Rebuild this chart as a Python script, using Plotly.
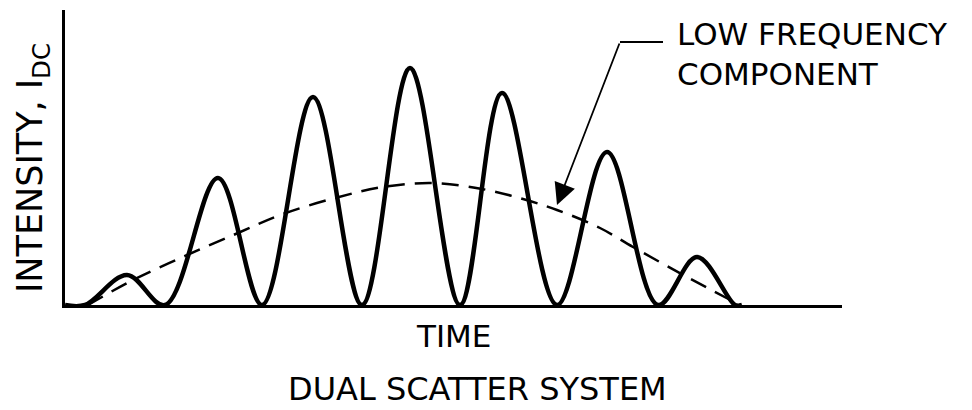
import plotly.graph_objects as go

# Measured DC intensity signal of a dual scatter system (arbitrary units)
time_pts = [0, 20, 62, 100, 153, 197, 248, 297, 345, 395, 437, 492, 542, 593, 632, 670, 677]
intensity = [0, 0, 30, 0, 127, 0, 208, 0, 237, 0, 212, 0, 153, 0, 48, 0, 0]

# Low frequency (pedestal) component of the same signal
env_time = [23, 68, 120, 173, 218, 270, 318, 368, 417, 458, 492, 535, 568, 622, 675]
env_level = [0, 25, 49, 72, 91, 107, 118, 122, 116, 106, 95, 77, 58, 28, 0]

FONT = "DejaVu Sans"
INK = "black"

fig = go.Figure()
fig.add_trace(go.Scatter(
    x=time_pts, y=intensity, mode="lines",
    line=dict(color=INK, width=4.5, shape="spline", smoothing=1.0),
    hoverinfo="skip", showlegend=False,
))
fig.add_trace(go.Scatter(
    x=env_time, y=env_level, mode="lines",
    line=dict(color=INK, width=2.5, shape="spline", smoothing=1.0, dash="17px,10px"),
    hoverinfo="skip", showlegend=False,
))

annotations = [
    dict(text="TIME", x=0.5006, y=-0.105, xref="paper", yref="paper", showarrow=False,
         font=dict(family=FONT, size=31, color=INK), xanchor="center", yanchor="middle"),
    dict(text="DUAL SCATTER SYSTEM", x=0.5315, y=-0.2847, xref="paper", yref="paper",
         showarrow=False, font=dict(family=FONT, size=32, color=INK),
         xanchor="center", yanchor="middle"),
    dict(text="INTENSITY, I<sub>DC</sub>", x=-0.041, y=0.465, xref="paper", yref="paper",
         showarrow=False, textangle=-90, font=dict(family=FONT, size=35, color=INK),
         xanchor="center", yanchor="middle"),
    dict(text="LOW FREQUENCY<br>COMPONENT", x=610, y=251, xref="x", yref="y",
         showarrow=False, align="left",
         font=dict(family=FONT, size=31, color=INK), xanchor="left", yanchor="middle"),
    dict(text="", x=492, y=100, ax=555, ay=263, xref="x", yref="y", axref="x", ayref="y",
         showarrow=True, arrowhead=2, arrowsize=2.4, arrowwidth=1.8, arrowcolor=INK),
]

# leader from the arrow tail to the label
fig.add_shape(type="line", x0=555, y0=263, x1=598, y1=263, xref="x", yref="y",
              line=dict(color=INK, width=1.8))

fig.update_layout(
    width=972, height=410,
    margin=dict(l=65, r=130, t=10, b=105),
    paper_bgcolor="white", plot_bgcolor="white",
    annotations=annotations,
    xaxis=dict(range=[0, 777], showgrid=False, zeroline=False, showticklabels=False,
               ticks="", showline=True, linecolor=INK, linewidth=3),
    yaxis=dict(range=[0, 295], showgrid=False, zeroline=False, showticklabels=False,
               ticks="", showline=True, linecolor=INK, linewidth=3),
)

fig.write_html("out.html")
